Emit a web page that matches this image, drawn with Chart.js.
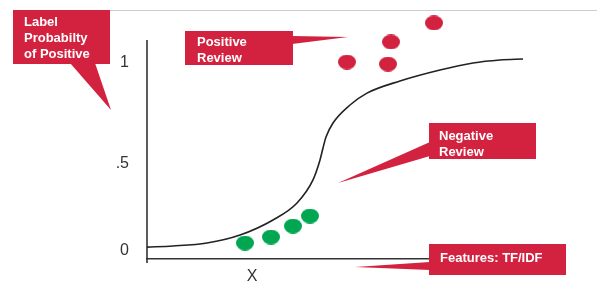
<!DOCTYPE html>
<html lang="en">
<head>
    <meta charset="UTF-8">
    <script src="https://cdn.jsdelivr.net/npm/chart.js"></script>
    <title>logistic regression sketch</title>
    <style>
        body { margin: 0; background: #fff; }
        canvas { display: block; }
    </style>
</head>
<body>
    <canvas id="myChart" width="597" height="284"></canvas>

<script>
    // data block
    const curveX = [0, 0.65, 1.5, 2.325, 3.15, 3.75, 4.15, 4.325, 4.4, 4.475, 4.65, 5.075, 5.5, 6.325, 7.325, 8.15, 8.825, 9.4];
    const curveY = [0.005, 0.011, 0.027, 0.070, 0.151, 0.242, 0.366, 0.473, 0.538, 0.597, 0.672, 0.769, 0.833, 0.898, 0.957, 0.995, 1.011, 1.016];

    const positiveX = [5.0, 6.025, 6.1, 7.175];
    const positiveY = [1.0, 0.989, 1.108, 1.21];

    const negativeX = [2.45, 3.1, 3.65, 4.075];
    const negativeY = [0.027, 0.059, 0.118, 0.172];

    const yTickValues = [-0.016, 0.452, 0.995];
    const yTickLabels = ['0', '.5', '1'];
    const xTickValues = [2.625];
    const xTickLabels = ['X'];

    // the drawn y axis stops here (value units)
    const yAxisTop = 1.118;

    const RED = '#d3223f';
    const GREEN = '#00a651';
    const INK = '#333333';

    // oval dots like the sketch
    function makeDot(color, w, h) {
        const c = document.createElement('canvas');
        c.width = w; c.height = h;
        const g = c.getContext('2d');
        g.fillStyle = color;
        g.beginPath();
        g.ellipse(w / 2, h / 2, w / 2, h / 2, 0, 0, Math.PI * 2);
        g.fill();
        return c;
    }

    const toPoints = (xs, ys) => xs.map((x, i) => ({ x: x, y: ys[i] }));

    // callouts: box, pointer triangle, text lines (pixels)
    const callouts = [
        { box: [13, 10, 97, 54], tail: [[70, 63], [95, 63], [111, 110]],
          lines: ['Label', 'Probabilty', 'of Positive'], tx: 24, ty: [22, 38, 54] },
        { box: [185, 31, 108, 34], tail: [[292, 36], [292, 44], [348, 37]],
          lines: ['Positive', 'Review'], tx: 197, ty: [42, 58] },
        { box: [429, 123, 107, 36], tail: [[430, 142], [430, 156], [338, 183]],
          lines: ['Negative', 'Review'], tx: 439, ty: [136, 152] },
        { box: [429, 244, 137, 31], tail: [[430, 262], [430, 270], [355, 267]],
          lines: ['Features: TF/IDF'], tx: 440, ty: [258] }
    ];

    const calloutPlugin = {
        id: 'callouts',
        beforeDraw(chart) {
            const ctx = chart.ctx;
            ctx.save();
            ctx.strokeStyle = '#cccccc';
            ctx.lineWidth = 1;
            ctx.beginPath();
            ctx.moveTo(13, 10.5);
            ctx.lineTo(597, 10.5);
            ctx.stroke();
            ctx.restore();
        },
        beforeDatasetsDraw(chart) {
            // y axis line, shorter than the plot area
            const ctx = chart.ctx;
            const area = chart.chartArea;
            const top = chart.scales.y.getPixelForValue(yAxisTop);
            ctx.save();
            ctx.strokeStyle = INK;
            ctx.lineWidth = 1.6;
            ctx.beginPath();
            ctx.moveTo(area.left, top);
            ctx.lineTo(area.left, area.bottom + 4);
            ctx.stroke();
            ctx.restore();
        },
        afterDraw(chart) {
            const ctx = chart.ctx;
            ctx.save();
            callouts.forEach(c => {
                ctx.fillStyle = RED;
                ctx.fillRect(c.box[0], c.box[1], c.box[2], c.box[3]);
                ctx.beginPath();
                ctx.moveTo(c.tail[0][0], c.tail[0][1]);
                ctx.lineTo(c.tail[1][0], c.tail[1][1]);
                ctx.lineTo(c.tail[2][0], c.tail[2][1]);
                ctx.closePath();
                ctx.fill();
                ctx.fillStyle = '#ffffff';
                ctx.font = 'bold 13px "Liberation Sans", Arial, sans-serif';
                ctx.textBaseline = 'middle';
                ctx.textAlign = 'left';
                c.lines.forEach((t, i) => ctx.fillText(t, c.tx, c.ty[i]));
            });
            ctx.restore();
        }
    };

    const data = {
        datasets: [
            {
                label: 'sigmoid',
                data: toPoints(curveX, curveY),
                showLine: true,
                borderColor: '#222222',
                borderWidth: 1.6,
                pointRadius: 0,
                cubicInterpolationMode: 'monotone',
                clip: false
            },
            {
                label: 'positive',
                data: toPoints(positiveX, positiveY),
                pointStyle: makeDot(RED, 18, 15),
                clip: false
            },
            {
                label: 'negative',
                data: toPoints(negativeX, negativeY),
                pointStyle: makeDot(GREEN, 18, 15),
                clip: false
            }
        ]
    };

    // no extra padding from the tick labels
    function noPad(scale) {
        scale.paddingTop = 0;
        scale.paddingBottom = 0;
        scale.paddingLeft = 0;
        scale.paddingRight = 0;
    }

    // config block
    const config = {
        type: 'scatter',
        data: data,
        options: {
            responsive: false,
            animation: false,
            devicePixelRatio: 1,
            layout: { padding: { top: 12, right: 50, left: 0, bottom: 0 } },
            plugins: {
                legend: { display: false },
                tooltip: { enabled: false }
            },
            scales: {
                x: {
                    type: 'linear',
                    min: 0,
                    max: 10,
                    grid: { display: false, drawTicks: false },
                    border: { display: true, color: INK, width: 1.6 },
                    ticks: {
                        color: INK,
                        padding: 8,
                        font: { size: 16, family: '"Liberation Sans", Arial, sans-serif' },
                        callback: (v) => xTickLabels[xTickValues.indexOf(v)]
                    },
                    afterBuildTicks: (scale) => { scale.ticks = xTickValues.map(v => ({ value: v })); },
                    afterFit: (scale) => { scale.height = 25; noPad(scale); }
                },
                y: {
                    min: -0.059,
                    max: 1.269,
                    grid: { display: false, drawTicks: false },
                    border: { display: false },
                    ticks: {
                        color: INK,
                        padding: 18,
                        font: { size: 16, family: '"Liberation Sans", Arial, sans-serif' },
                        callback: (v) => yTickLabels[yTickValues.indexOf(v)]
                    },
                    afterBuildTicks: (scale) => { scale.ticks = yTickValues.map(v => ({ value: v })); },
                    afterFit: (scale) => { scale.width = 147; noPad(scale); }
                }
            }
        },
        plugins: [calloutPlugin]
    };

    // Render block
    const myChart = new Chart(document.getElementById('myChart'), config);
</script>

</body>
</html>
